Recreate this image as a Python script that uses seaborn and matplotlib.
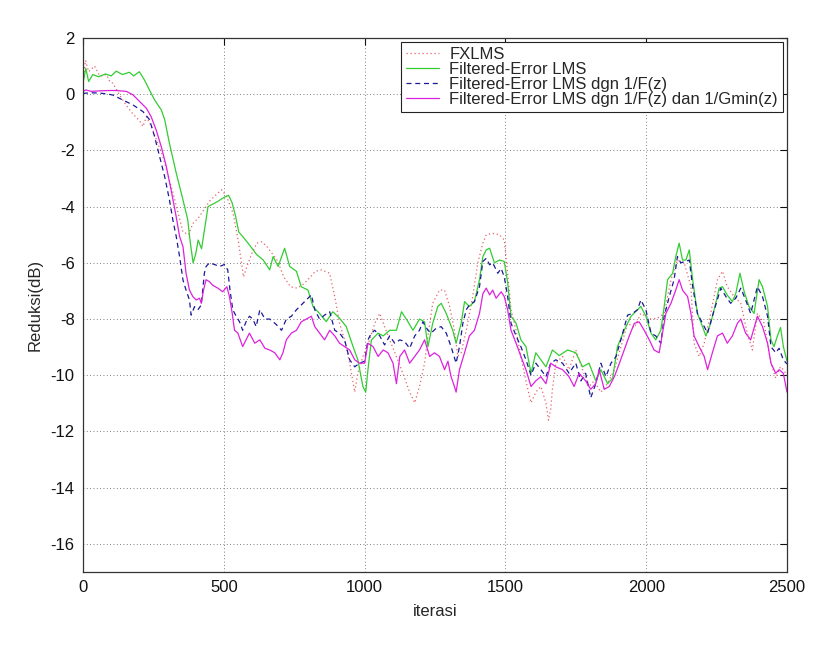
import matplotlib
matplotlib.use("Agg")
import matplotlib.pyplot as plt
import seaborn as sns
import pandas as pd

# FXLMS (red dotted)
fx_it = [0, 9, 20, 41, 60, 83, 95, 106, 130, 154, 177, 201, 213, 225, 243, 261, 284, 303, 320, 338,
         355, 375, 390, 410, 430, 450, 470, 492, 510, 533, 551, 570, 582, 600, 617, 635, 653, 671, 689, 713,
         737, 760, 784, 808, 825, 847, 876, 894, 911, 929, 947, 965, 976, 994, 1018, 1036, 1054, 1071, 1089, 1113,
         1136, 1160, 1178, 1195, 1213, 1225, 1242, 1266, 1284, 1302, 1319, 1331, 1343, 1361, 1384, 1402, 1420, 1432, 1455, 1479,
         1496, 1508, 1520, 1538, 1555, 1573, 1591, 1608, 1626, 1644, 1653, 1661, 1667, 1679, 1703, 1726, 1750, 1774, 1797, 1815,
         1839, 1862, 1887, 1910, 1934, 1958, 1981, 2017, 2040, 2064, 2088, 2111, 2135, 2159, 2170, 2188, 2206, 2229, 2253, 2271,
         2288, 2312, 2336, 2359, 2377, 2395, 2419, 2443, 2460, 2477, 2487, 2500]
fx_db = [0.5, 1.2, 0.8, 1.0, 0.64, 0.7, 0.45, 0.39, -0.03, -0.4, -0.7, -0.95, -1.15, -0.8, -1.15, -1.63, -2.23, -2.93, -3.53, -4.24,
         -4.9, -5.0, -4.6, -4.4, -4.1, -3.8, -3.6, -3.4, -3.64, -4.24, -5.19, -6.5, -6.13, -5.66, -5.3, -5.25, -5.42, -5.66, -5.9, -6.5,
         -6.85, -6.9, -6.75, -6.5, -6.3, -6.25, -6.37, -7.2, -8.15, -8.74, -9.57, -10.6, -9.93, -9.33, -8.74, -8.15, -7.8, -8.27, -8.74, -9.33,
         -9.93, -10.6, -10.98, -10.4, -9.57, -8.6, -7.44, -6.97, -6.97, -7.55, -8.4, -9.33, -9.2, -8.4, -7.2, -6.0, -5.3, -5.0, -4.95, -5.0,
         -5.19, -6.37, -7.67, -8.4, -9.33, -10.2, -10.98, -10.6, -10.4, -10.98, -11.6, -11.2, -10.5, -9.57, -9.33, -9.8, -9.1, -9.8, -10.4, -10.2,
         -10.6, -10.3, -9.8, -9.0, -8.15, -8.3, -7.8, -8.0, -7.97, -7.8, -6.6, -5.9, -6.0, -6.85, -8.86, -9.33, -8.86, -7.8, -6.6, -6.3,
         -6.85, -7.2, -7.44, -8.5, -9.1, -7.8, -8.15, -9.57, -10.1, -9.7, -9.8, -10.0]

# Filtered-Error LMS (green)
fe_it = [0, 10, 20, 35, 55, 80, 100, 118, 140, 165, 180, 200, 218, 236, 254, 278, 290, 307, 331, 355,
         372, 380, 391, 400, 409, 421, 444, 463, 481, 499, 517, 529, 541, 553, 570, 594, 616, 640, 663, 675,
         693, 716, 734, 758, 775, 799, 817, 840, 864, 887, 911, 935, 959, 976, 994, 1004, 1012, 1024, 1048, 1066,
         1089, 1113, 1131, 1148, 1172, 1195, 1213, 1225, 1242, 1260, 1272, 1290, 1313, 1325, 1343, 1355, 1372, 1390, 1408, 1420,
         1432, 1444, 1461, 1479, 1496, 1508, 1520, 1538, 1555, 1573, 1591, 1608, 1626, 1644, 1667, 1691, 1721, 1750, 1774, 1797,
         1821, 1839, 1863, 1881, 1898, 1922, 1946, 1969, 1981, 1999, 2017, 2034, 2052, 2064, 2076, 2094, 2105, 2117, 2129, 2141,
         2153, 2165, 2182, 2200, 2212, 2229, 2247, 2259, 2271, 2288, 2306, 2318, 2333, 2348, 2365, 2383, 2401, 2413, 2431, 2443,
         2454, 2466, 2477, 2487, 2500]
fe_db = [0.4, 0.92, 0.45, 0.7, 0.62, 0.72, 0.65, 0.82, 0.7, 0.78, 0.65, 0.8, 0.51, 0.15, -0.2, -0.56, -0.9, -1.75, -2.8, -3.76,
         -4.47, -5.2, -6.0, -5.7, -5.19, -5.5, -4.0, -3.9, -3.8, -3.68, -3.6, -3.85, -4.3, -4.9, -5.1, -5.4, -5.7, -5.9, -6.25, -5.78,
         -6.13, -5.48, -6.13, -6.3, -6.85, -6.97, -7.56, -7.8, -8.09, -7.74, -7.97, -8.27, -8.98, -9.45, -10.4, -10.6, -9.8, -8.75, -8.5, -8.6,
         -8.4, -8.4, -7.74, -8.0, -8.4, -8.0, -8.1, -8.98, -8.15, -7.55, -7.44, -7.8, -8.4, -8.86, -8.15, -7.38, -7.55, -7.38, -6.6, -5.78,
         -5.54, -5.48, -6.0, -5.9, -5.95, -6.7, -7.9, -8.15, -8.74, -8.98, -9.93, -9.2, -9.45, -9.7, -9.1, -9.3, -9.1, -9.2, -9.7, -9.57,
         -10.2, -9.8, -10.3, -10.1, -8.98, -8.4, -7.9, -7.67, -7.55, -7.9, -8.5, -8.74, -8.4, -7.55, -6.6, -6.37, -5.78, -5.3, -5.9, -5.9,
         -5.54, -6.6, -7.8, -8.27, -8.6, -8.15, -7.44, -6.9, -6.85, -7.15, -7.38, -7.1, -6.37, -7.03, -7.55, -7.8, -6.6, -6.85, -7.55, -8.74,
         -8.98, -8.6, -8.3, -8.97, -9.5]

# Filtered-Error LMS dgn 1/F(z) (blue dashed)
ff_it = [0, 30, 60, 90, 106, 118, 142, 177, 213, 236, 254, 272, 290, 307, 319, 331, 343, 355, 366, 378,
         384, 396, 408, 420, 431, 437, 449, 467, 485, 502, 514, 522, 532, 544, 556, 567, 579, 591, 603, 615,
         628, 646, 663, 687, 705, 722, 740, 758, 775, 799, 811, 823, 840, 858, 876, 894, 911, 929, 947, 965,
         982, 1000, 1012, 1024, 1036, 1054, 1071, 1089, 1107, 1125, 1142, 1160, 1178, 1195, 1207, 1225, 1236, 1254, 1272, 1290,
         1307, 1325, 1337, 1349, 1361, 1372, 1390, 1408, 1420, 1432, 1444, 1455, 1473, 1485, 1496, 1508, 1520, 1538, 1555, 1573,
         1591, 1608, 1626, 1644, 1661, 1679, 1703, 1726, 1750, 1768, 1785, 1803, 1821, 1839, 1857, 1875, 1893, 1910, 1934, 1952,
         1969, 1981, 1999, 2017, 2034, 2052, 2064, 2082, 2099, 2111, 2123, 2141, 2153, 2165, 2182, 2200, 2218, 2235, 2253, 2265,
         2283, 2300, 2318, 2336, 2353, 2371, 2395, 2413, 2431, 2443, 2460, 2472, 2487, 2500]
ff_db = [0.03, 0.05, 0.04, 0.0, -0.03, -0.09, -0.21, -0.38, -0.62, -0.9, -1.5, -2.22, -2.93, -3.76, -4.47, -5.06, -5.78, -6.61, -6.97, -7.32,
         -7.86, -7.56, -7.67, -7.5, -6.37, -6.13, -6.0, -6.06, -6.13, -6.06, -6.25, -6.97, -7.67, -7.9, -8.1, -8.4, -8.1, -7.9, -8.0, -8.27,
         -7.67, -8.0, -8.0, -8.2, -8.4, -8.0, -7.9, -7.67, -7.5, -7.26, -7.14, -7.67, -8.0, -7.86, -7.74, -8.4, -8.5, -8.74, -9.45, -9.7,
         -9.57, -9.5, -8.74, -8.5, -8.4, -8.6, -8.92, -8.6, -8.86, -8.74, -8.8, -9.04, -8.6, -8.4, -8.1, -8.4, -8.5, -8.33, -8.27, -8.5,
         -8.98, -9.57, -8.98, -8.15, -7.67, -7.5, -7.38, -6.85, -5.95, -5.84, -6.07, -6.0, -6.37, -6.2, -6.5, -7.2, -8.15, -8.6, -8.98, -9.45,
         -10.0, -9.57, -9.8, -10.05, -9.57, -9.45, -9.57, -9.93, -9.57, -10.2, -9.93, -10.8, -10.3, -9.57, -10.05, -9.57, -9.33, -8.74, -7.86, -7.8,
         -7.67, -7.32, -7.67, -8.5, -8.6, -8.86, -7.9, -7.2, -6.6, -5.78, -6.0, -5.95, -5.9, -6.85, -7.8, -8.15, -8.5, -7.9, -7.3, -6.9,
         -7.2, -7.44, -7.26, -6.9, -7.32, -7.8, -6.85, -7.2, -7.9, -8.98, -9.2, -9.04, -9.45, -9.6]

# Filtered-Error LMS dgn 1/F(z) dan 1/Gmin(z) (magenta)
fg_it = [0, 10, 30, 60, 90, 118, 154, 177, 201, 225, 242, 260, 278, 296, 313, 331, 343, 355, 366, 378,
         390, 402, 414, 420, 428, 437, 449, 461, 479, 496, 511, 520, 530, 538, 550, 567, 579, 591, 610, 628,
         646, 663, 681, 699, 710, 722, 740, 758, 775, 793, 811, 823, 840, 858, 876, 894, 911, 929, 947, 965,
         982, 1000, 1012, 1030, 1048, 1066, 1083, 1101, 1113, 1125, 1142, 1160, 1178, 1195, 1213, 1231, 1248, 1266, 1284, 1296,
         1307, 1319, 1325, 1337, 1355, 1372, 1390, 1408, 1420, 1432, 1444, 1455, 1467, 1485, 1496, 1508, 1520, 1538, 1555, 1573,
         1591, 1608, 1626, 1644, 1661, 1679, 1703, 1726, 1744, 1762, 1785, 1803, 1821, 1833, 1851, 1869, 1887, 1905, 1922, 1940,
         1958, 1975, 1993, 2011, 2028, 2046, 2058, 2070, 2088, 2105, 2117, 2129, 2147, 2159, 2170, 2188, 2206, 2218, 2235, 2253,
         2271, 2288, 2306, 2324, 2336, 2353, 2371, 2395, 2413, 2431, 2443, 2460, 2472, 2487, 2500]
fg_db = [0.1, 0.15, 0.1, 0.12, 0.13, 0.13, 0.1, -0.02, -0.26, -0.5, -0.8, -1.28, -1.87, -2.58, -3.41, -4.36, -5.06, -5.42, -6.37, -6.97,
         -7.2, -7.32, -7.26, -7.44, -6.97, -6.6, -6.67, -6.8, -6.9, -7.03, -6.85, -7.2, -7.8, -8.4, -8.5, -8.98, -8.74, -8.5, -8.86, -8.74,
         -9.04, -9.1, -9.2, -9.45, -9.2, -8.74, -8.5, -8.4, -8.1, -8.0, -7.9, -8.27, -8.5, -8.74, -8.4, -8.6, -8.86, -8.98, -9.1, -9.45,
         -9.57, -9.57, -8.86, -8.98, -9.33, -9.1, -9.2, -9.57, -10.3, -9.33, -9.1, -9.57, -9.33, -9.1, -8.74, -9.33, -9.2, -9.33, -9.8, -9.5,
         -10.05, -10.4, -10.6, -9.8, -9.2, -8.6, -8.4, -7.8, -7.1, -6.9, -7.14, -6.97, -7.26, -7.03, -7.2, -7.67, -8.4, -8.86, -9.33, -9.8,
         -10.4, -10.2, -10.05, -10.3, -9.57, -9.7, -9.8, -10.05, -10.4, -9.93, -10.2, -10.5, -10.3, -9.8, -10.5, -10.4, -10.05, -9.57, -9.1, -8.6,
         -8.15, -8.1, -8.4, -8.74, -9.1, -9.2, -8.5, -7.8, -7.44, -6.97, -6.6, -6.97, -7.2, -7.8, -8.6, -8.98, -9.33, -9.8, -9.2, -8.6,
         -8.5, -8.86, -8.6, -8.15, -8.0, -8.5, -8.74, -7.9, -8.27, -8.86, -9.57, -9.93, -9.8, -9.93, -10.6]

labels = ["FXLMS", "Filtered-Error LMS", "Filtered-Error LMS dgn 1/F(z)",
          "Filtered-Error LMS dgn 1/F(z) dan 1/Gmin(z)"]

sns.set_style("white")
plt.rcParams['font.family'] = ['Liberation Sans', 'DejaVu Sans']
plt.rcParams['axes.unicode_minus'] = False

fig = plt.figure(figsize=(8.35, 6.47), dpi=100)
ax = fig.add_axes([0.0994, 0.1159, 0.8431, 0.8254])

series = [
    (fx_it, fx_db, '#e8606a', (0, (1, 2.2)), 0.9),
    (fe_it, fe_db, '#33cc33', '-', 0.9),
    (ff_it, ff_db, '#1a1a99', (0, (4, 3)), 0.9),
    (fg_it, fg_db, '#dd22dd', '-', 0.9),
]
for (xs, ys, col, ls, lw), lab in zip(series, labels):
    df = pd.DataFrame({'iterasi': xs, 'db': ys})
    sns.lineplot(data=df, x='iterasi', y='db', ax=ax, color=col, linestyle=ls,
                 linewidth=lw, estimator=None, sort=False, label=lab)

ax.set_xlim(0, 2500)
ax.set_ylim(-17, 2)
ax.set_xticks(range(0, 2501, 500))
ax.set_yticks(range(-16, 3, 2))
ax.grid(True, color='#555555', linestyle=(0, (1, 3)), linewidth=0.6)
for s in ax.spines.values():
    s.set_color('#333333')
    s.set_linewidth(0.9)
ax.tick_params(direction='in', length=5, top=True, right=True, labelsize=12,
               colors='#111111', width=0.8, pad=6)
ax.set_xlabel('iterasi', fontsize=12, labelpad=6)
ax.set_ylabel('Reduksi(dB)', fontsize=12, labelpad=6)

leg = ax.legend(loc='upper right', bbox_to_anchor=(0.9945, 0.993), fontsize=12,
                frameon=True, fancybox=False, framealpha=1, edgecolor='#222222',
                handlelength=2.0, handletextpad=0.6, labelspacing=0.0,
                borderpad=0.3, borderaxespad=0.0)
leg.get_frame().set_linewidth(0.8)

fig.savefig('out.png', dpi=100, facecolor='white')
